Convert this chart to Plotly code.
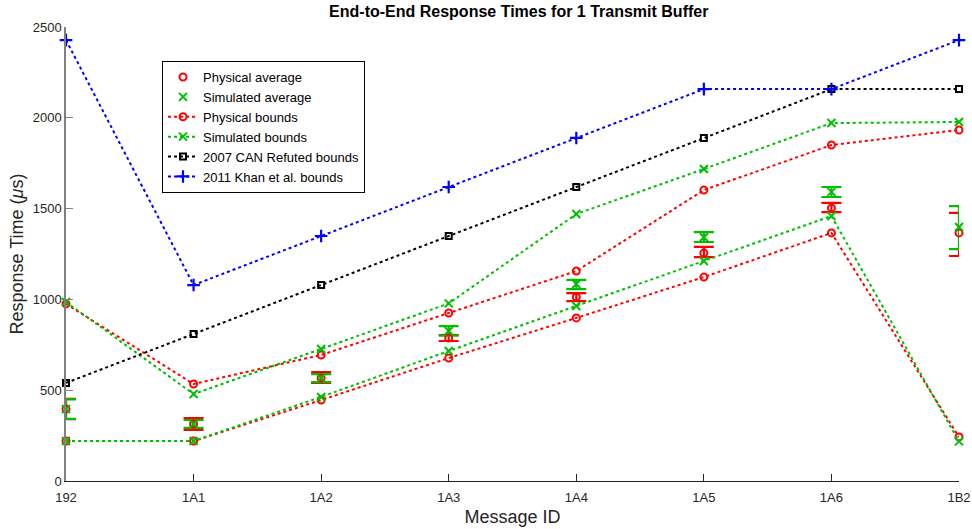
import numpy as np
import plotly.graph_objects as go

categories = ['192', '1A1', '1A2', '1A3', '1A4', '1A5', '1A6', '1B2']

phys_avg = [396, 314, 567, 787, 1013, 1255, 1503, 1366]
phys_max = [452, 347, 600, 804, 1035, 1289, 1531, 1476]
phys_min = [341, 281, 540, 771, 991, 1233, 1481, 1239]

sim_avg = [396, 314, 567, 826, 1085, 1342, 1592, 1399]
sim_max = [450, 336, 589, 853, 1107, 1371, 1619, 1514]
sim_min = [342, 292, 545, 800, 1057, 1316, 1564, 1277]

phys_upper = [975, 534, 694, 925, 1156, 1602, 1850, 1933]
phys_lower = [220, 220, 446, 677, 898, 1123, 1366, 242]
sim_upper = [986, 479, 727, 978, 1470, 1718, 1971, 1977]
sim_lower = [220, 220, 463, 716, 964, 1211, 1459, 218]
can2007 = [540, 809, 1079, 1349, 1619, 1889, 2158, 2158]
khan2011 = [2428, 1079, 1349, 1619, 1889, 2158, 2158, 2428]

RED = '#FF0000'
GREEN = '#00BE00'
BLUE = '#0000FF'
BLACK = '#000000'

x = list(range(len(categories)))
fig = go.Figure()


def errtrace(avg, mx, mn, color):
    avg = np.array(avg, float)
    return go.Scatter(
        x=x, y=avg, mode='markers', xaxis='x', yaxis='y',
        marker=dict(size=1, color='rgba(0,0,0,0)'),
        error_y=dict(type='data', symmetric=False,
                     array=np.array(mx, float) - avg,
                     arrayminus=avg - np.array(mn, float),
                     color=color, thickness=2.2, width=10),
        showlegend=False, hoverinfo='skip', cliponaxis=True)


fig.add_trace(errtrace(phys_avg, phys_max, phys_min, RED))
fig.add_trace(errtrace(sim_avg, sim_max, sim_min, GREEN))

fig.add_trace(go.Scatter(
    x=x, y=phys_avg, mode='markers', name='Physical average', xaxis='x2', yaxis='y',
    marker=dict(symbol='circle-open', size=7, color=RED, line=dict(color=RED, width=2)),
    cliponaxis=False))
fig.add_trace(go.Scatter(
    x=x, y=sim_avg, mode='markers', name='Simulated average', xaxis='x2', yaxis='y',
    marker=dict(symbol='x-thin-open', size=8, color=GREEN, line=dict(color=GREEN, width=2)),
    cliponaxis=False))


def bounds(up, lo):
    xs = x + [None] + x
    ys = list(up) + [None] + list(lo)
    return xs, ys


xs, ys = bounds(phys_upper, phys_lower)
fig.add_trace(go.Scatter(
    x=xs, y=ys, mode='lines+markers', name='Physical bounds', xaxis='x2', yaxis='y',
    line=dict(color=RED, width=2, dash='dot'), connectgaps=False,
    marker=dict(symbol='circle-open', size=7, color=RED, line=dict(color=RED, width=2)),
    cliponaxis=False))
xs, ys = bounds(sim_upper, sim_lower)
fig.add_trace(go.Scatter(
    x=xs, y=ys, mode='lines+markers', name='Simulated bounds', xaxis='x2', yaxis='y',
    line=dict(color=GREEN, width=2, dash='dot'), connectgaps=False,
    marker=dict(symbol='x-thin-open', size=8, color=GREEN, line=dict(color=GREEN, width=2)),
    cliponaxis=False))
fig.add_trace(go.Scatter(
    x=x, y=can2007, mode='lines+markers', name='2007 CAN Refuted bounds', xaxis='x2', yaxis='y',
    line=dict(color=BLACK, width=2, dash='dot'),
    marker=dict(symbol='square-open', size=6, color=BLACK, line=dict(color=BLACK, width=2)),
    cliponaxis=False))
fig.add_trace(go.Scatter(
    x=x, y=khan2011, mode='lines+markers', name='2011 Khan et al. bounds', xaxis='x2', yaxis='y',
    line=dict(color=BLUE, width=2, dash='dot'),
    marker=dict(symbol='cross-thin-open', size=9, color=BLUE, line=dict(color=BLUE, width=2.2)),
    cliponaxis=False))

FONT = 'Liberation Sans, Arial, sans-serif'
fig.update_layout(
    width=972, height=529,
    margin=dict(l=66, r=13, t=27, b=48),
    paper_bgcolor='white', plot_bgcolor='white',
    font=dict(family=FONT, size=13, color='#262626'),
    title=dict(text='<b>End-to-End Response Times for 1 Transmit Buffer</b>',
               x=0.507, xref='paper', xanchor='center',
               y=1 - 11 / 529, yref='container', yanchor='middle',
               font=dict(family=FONT, size=16, color='black')),
    xaxis=dict(range=[0, 7], tickmode='array', tickvals=x, ticktext=categories,
               automargin=False,
               showgrid=False, zeroline=False, showline=True, linecolor='#262626', linewidth=1,
               ticks='inside', ticklen=7, tickcolor='#262626', ticklabelstandoff=4,
               title=dict(text='Message ID', font=dict(size=18, color='#262626'), standoff=6),
               tickfont=dict(size=13, color='#262626')),
    xaxis2=dict(range=[0, 7], overlaying='x', visible=False),
    yaxis=dict(range=[0, 2500], tickvals=[0, 500, 1000, 1500, 2000, 2500],
               automargin=False,
               showgrid=False, zeroline=False, showline=True, linecolor='#808080', linewidth=1.5,
               ticks='inside', ticklen=7, tickcolor='#808080',
               title=dict(text='Response Time (<i>μ</i>s)', font=dict(size=18, color='#262626'), standoff=4),
               tickfont=dict(size=13, color='#262626')),
    legend=dict(x=(162 - 66) / 893, y=(481 - 61) / 454, xanchor='left', yanchor='top',
                bgcolor='white', bordercolor='black', borderwidth=1,
                font=dict(family=FONT, size=13, color='black'),
                itemwidth=30, tracegroupgap=0),
)

fig.write_html('out.html')
